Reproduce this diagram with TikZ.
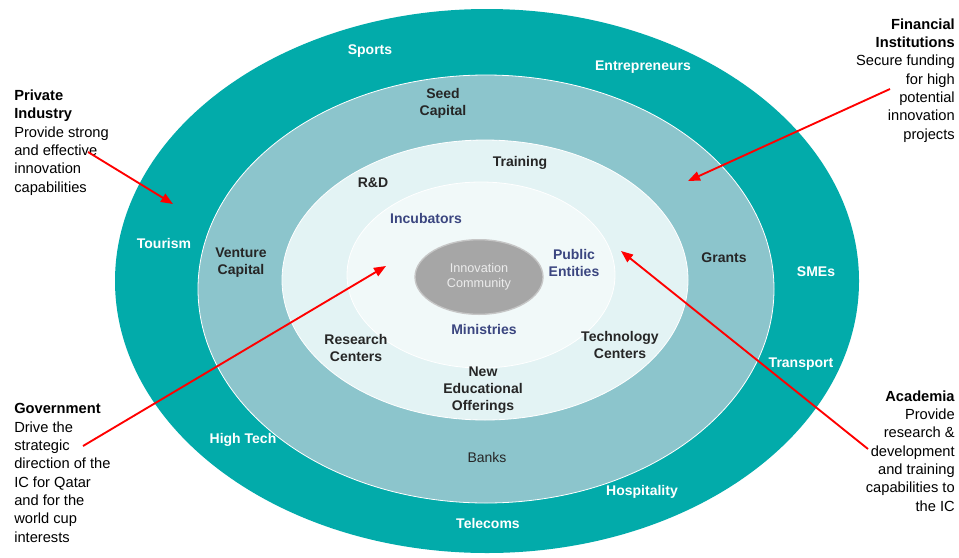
\documentclass[tikz,border=0pt]{standalone}
\usepackage{fontspec}
\setmainfont{Liberation Sans}
\usetikzlibrary{arrows.meta,shapes.geometric}
\definecolor{ringA}{HTML}{02ABAA}
\definecolor{ringB}{HTML}{8CC5CC}
\definecolor{ringC}{HTML}{E3F3F4}
\definecolor{ringD}{HTML}{F1F9F9}
\definecolor{ink}{HTML}{3B4680}
\newcommand\lblfont{\bfseries\fontsize{10.5}{12.75}\selectfont}
\newcommand\sidefont{\fontsize{11}{13.75}\selectfont}
\tikzset{
	ring/.style={draw=white,line width=0.6pt},
	wlab/.style={text=white,font=\lblfont,align=center,inner sep=0pt},
	blab/.style={text=black!85,font=\lblfont,align=center,inner sep=0pt},
	ilab/.style={text=ink,font=\lblfont,align=center,inner sep=0pt},
	sidel/.style={font=\sidefont,align=left,anchor=base west,inner sep=0pt},
	sider/.style={font=\sidefont,align=right,anchor=base east,inner sep=0pt},
	pointer/.style={->,red,line width=1.4pt}
}
\begin{document}
\begin{tikzpicture}[x=0.75pt,y=-0.75pt,>={Triangle[length=9pt,width=7pt]}]
		\useasboundingbox (0,0) rectangle (959,557);
		\fill[ringA] (487,281) ellipse [x radius=372, y radius=272];
		\filldraw[ring,fill=ringB] (486,289) ellipse [x radius=288, y radius=214];
		\filldraw[ring,fill=ringC] (485,280) ellipse [x radius=203, y radius=140];
		\filldraw[ring,fill=ringD] (481,275) ellipse [x radius=134, y radius=93];
		\node[ellipse,fill=gray!70,draw=gray!45,line width=1pt,minimum width=96pt,minimum height=56pt,inner sep=0pt,
			text=gray!15,font=\fontsize{9.5}{11}\selectfont,align=center] (core) at (479,277) {Innovation\\Community};

		\node[wlab] (sports) at (370,51) {Sports};
		\node[wlab] (entre) at (643,67) {Entrepreneurs};
		\node[wlab] (tourism) at (164,243) {Tourism};
		\node[wlab] (smes) at (816,272) {SMEs};
		\node[wlab] (transp) at (801,364) {Transport};
		\node[wlab] (hitech) at (243,440) {High Tech};
		\node[wlab] (hosp) at (642,492) {Hospitality};
		\node[wlab] (telco) at (488,523) {Telecoms};

		\node[blab] (seed) at (443,103) {Seed\\Capital};
		\node[blab] (venture) at (241,263) {Venture\\Capital};
		\node[blab] (grants) at (724,258) {Grants};
		\node[blab,font=\fontsize{10.5}{12.75}\selectfont] (banks) at (487,457) {Banks};
		\node[blab] (train) at (520,163) {Training};
		\node[blab] (rnd) at (373,183) {R\&D};
		\node[blab] (research) at (356,348) {Research\\Centers};
		\node[blab] (techc) at (620,345) {Technology\\Centers};
		\node[blab] (neweo) at (483,390) {New\\Educational\\Offerings};

		\node[ilab] (incub) at (426,218) {Incubators};
		\node[ilab] (public) at (574,263) {Public\\Entities};
		\node[ilab] (minis) at (484,329) {Ministries};

		\node[sidel] (priv) at (14,192) {\textbf{Private}\\\textbf{Industry}\\Provide strong\\and effective\\innovation\\capabilities};
		\node[sider] (fin) at (955,139) {\textbf{Financial}\\\textbf{Institutions}\\Secure funding\\for high\\potential\\innovation\\projects};
		\node[sidel] (gov) at (14,542) {\textbf{Government}\\Drive the\\strategic\\direction of the\\IC for Qatar\\and for the\\world cup\\interests};
		\node[sider] (acad) at (955,511) {\textbf{Academia}\\Provide\\research \&\\development\\and training\\capabilities to\\the IC};

		\coordinate (priv-s) at (88,152);
		\coordinate (priv-e) at (173,204);
		\coordinate (fin-s) at (890,89);
		\coordinate (fin-e) at (688,181);
		\coordinate (gov-s) at (83,446);
		\coordinate (gov-e) at (386,266);
		\coordinate (acad-s) at (868,449);
		\coordinate (acad-e) at (621,251);
		\draw[pointer] (priv-s)--(priv-e);
		\draw[pointer] (fin-s)--(fin-e);
		\draw[pointer] (gov-s)--(gov-e);
		\draw[pointer] (acad-s)--(acad-e);
	\end{tikzpicture}
\end{document}
